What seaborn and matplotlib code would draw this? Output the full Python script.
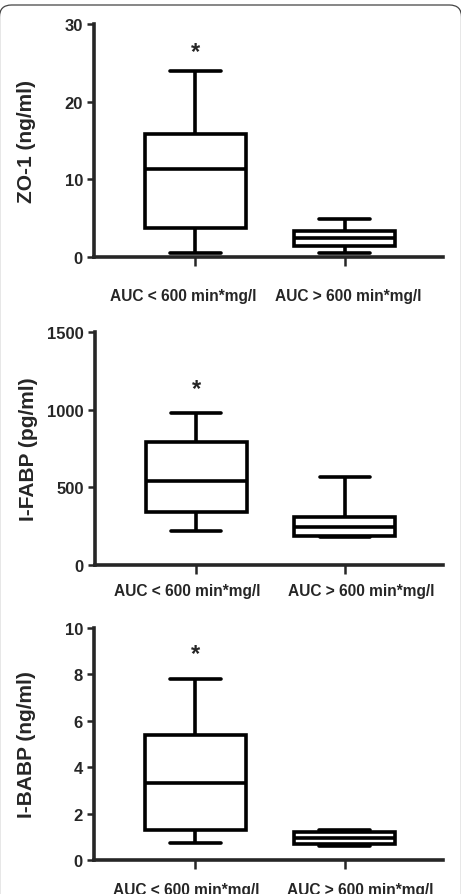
import matplotlib
matplotlib.use("Agg")
import pandas as pd
import matplotlib.pyplot as plt
import matplotlib.transforms as mtransforms
import seaborn as sns
from matplotlib.patches import FancyBboxPatch

groups = ["AUC < 600 min*mg/l", "AUC > 600 min*mg/l"]

# five-number summaries: min, Q1, median, Q3, max
zo1_low = [0.5, 3.7, 11.3, 15.8, 24.0]
zo1_high = [0.5, 1.45, 2.5, 3.3, 4.9]
ifabp_low = [220, 338, 542, 790, 977]
ifabp_high = [177, 187, 245, 310, 568]
ibabp_low = [0.72, 1.29, 3.3, 5.4, 7.8]
ibabp_high = [0.6, 0.7, 0.96, 1.2, 1.31]

ylabels = ["ZO-1 (ng/ml)", "I-FABP (pg/ml)", "I-BABP (ng/ml)"]
yticks = [[0, 10, 20, 30], [0, 500, 1000, 1500], [0, 2, 4, 6, 8, 10]]
star_y = [26.5, 1140, 8.9]

sns.set_style("ticks")
plt.rcParams["font.family"] = ["Liberation Sans", "DejaVu Sans"]
plt.rcParams["font.weight"] = "bold"

LW = 2.6


def draw_panel(fig, ax, low, high, ylabel, ticks, star, pad, shifts):
    df = pd.DataFrame({
        "group": [groups[0]] * len(low) + [groups[1]] * len(high),
        "value": low + high,
    })
    sns.boxplot(data=df, x="group", y="value", order=groups, whis=(0, 100),
                width=0.68, color="white", linecolor="black", linewidth=LW,
                showfliers=False, ax=ax)
    ax.set_xlim(-0.68, 1.66)
    ax.set_ylim(ticks[0], ticks[-1])
    ax.set_yticks(ticks)
    sns.despine(ax=ax)
    for s in ["left", "bottom"]:
        ax.spines[s].set_linewidth(LW)
    ax.tick_params(axis="y", length=5, width=1.8, labelsize=12, pad=3)
    ax.tick_params(axis="x", length=6.5, width=1.8, labelsize=11.2, pad=pad)
    for lab in ax.get_yticklabels():
        lab.set_fontweight("bold")
    # the category labels sit a little off their ticks in the original
    for lab, dx in zip(ax.get_xticklabels(), shifts):
        lab.set_fontweight("bold")
        off = mtransforms.ScaledTranslation(dx / 100, 0, fig.dpi_scale_trans)
        lab.set_transform(lab.get_transform() + off)
    ax.set_xlabel("")
    ax.set_ylabel(ylabel, fontsize=15, fontweight="bold")
    ax.yaxis.set_label_coords(-0.165, 0.5)
    ax.text(0, star, "*", ha="center", va="center", fontsize=17, fontweight="bold")


fig = plt.figure(figsize=(4.61, 8.95), dpi=100)
positions = [[0.204, 0.7117, 0.757, 0.2603],
             [0.206, 0.3679, 0.755, 0.2597],
             [0.204, 0.0380, 0.757, 0.2592]]
data = [(zo1_low, zo1_high), (ifabp_low, ifabp_high), (ibabp_low, ibabp_high)]
pads = [16, 7, 9]
label_shifts = [(-12, 4), (-9, 16), (-9, 16)]

for pos, (lo, hi), yl, tk, st, pd_, sh in zip(positions, data, ylabels, yticks,
                                              star_y, pads, label_shifts):
    ax = fig.add_axes(pos)
    draw_panel(fig, ax, lo, hi, yl, tk, st, pd_, sh)

# thin rounded frame along the top of the image
frame = FancyBboxPatch((-0.005, -0.5), 4.62, 9.39,
                       boxstyle="round,pad=0,rounding_size=0.12",
                       transform=fig.dpi_scale_trans, facecolor="none",
                       edgecolor="#444444", linewidth=0.9, clip_on=False)
fig.add_artist(frame)

fig.savefig("out.png", dpi=100)
